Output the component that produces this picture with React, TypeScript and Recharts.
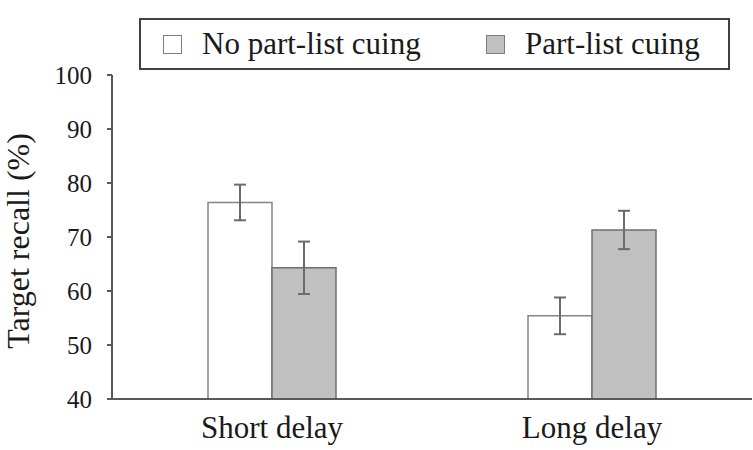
import { BarChart, Bar, XAxis, YAxis, ErrorBar } from "recharts";

const categories = ["Short delay", "Long delay"];
const seriesNames = ["No part-list cuing", "Part-list cuing"];
const noCuing = [76.4, 55.4];
const noCuingErr = [3.3, 3.4];
const cuing = [64.3, 71.3];
const cuingErr = [4.85, 3.55];
const yTicks = [40, 50, 60, 70, 80, 90, 100];

const FILLS = ["#ffffff", "#c0c0c0"];
const FONT = '"Liberation Serif", "Times New Roman", serif';

const data = categories.map((c, i) => ({
  name: c,
  noCuing: noCuing[i],
  noCuingErr: noCuingErr[i],
  cuing: cuing[i],
  cuingErr: cuingErr[i],
}));

function YTitle() {
  return (
    <text
      x={18}
      y={241}
      transform="rotate(-90, 18, 241)"
      textAnchor="middle"
      dominantBaseline="central"
      fontFamily={FONT}
      fontSize={32}
      fill="#1a1a1a"
    >
      Target recall (%)
    </text>
  );
}

function ChartLegend() {
  const item = (i: number, left: number) => (
    <div
      key={i}
      style={{
        position: "absolute",
        left,
        top: 0,
        height: 48,
        display: "flex",
        alignItems: "center",
      }}
    >
      <div
        style={{
          width: 17,
          height: 17,
          background: FILLS[i],
          border: "1.5px solid #7f7f7f",
          marginRight: 20,
        }}
      />
      <span style={{ fontFamily: FONT, fontSize: 31, color: "#1a1a1a" }}>
        {seriesNames[i]}
      </span>
    </div>
  );
  return (
    <div
      style={{
        position: "absolute",
        left: 139,
        top: 18,
        width: 587,
        height: 48,
        border: "2px solid #404040",
      }}
    >
      {item(0, 22)}
      {item(1, 345)}
    </div>
  );
}

export default function App() {
  return (
    <div style={{ position: "absolute", left: 0, top: 0, width: 753, height: 450, background: "#fff" }}>
      <BarChart
        width={753}
        height={450}
        data={data}
        margin={{ top: 75, right: 1, left: 0, bottom: 0 }}
        barCategoryGap="30%"
        barGap={0}
      >
        <XAxis
          dataKey="name"
          axisLine={{ stroke: "#595959", strokeWidth: 2 }}
          tickLine={false}
          tickSize={0}
          tickMargin={17}
          height={51}
          tick={{ fontFamily: FONT, fontSize: 31, fill: "#1a1a1a" }}
        />
        <YAxis
          width={112}
          domain={[40, 100]}
          ticks={yTicks}
          interval={0}
          axisLine={{ stroke: "#595959", strokeWidth: 2 }}
          tickLine={{ stroke: "#595959", strokeWidth: 2 }}
          tickSize={5}
          tickMargin={15}
          tick={{ fontFamily: FONT, fontSize: 25, fill: "#1a1a1a" }}
          label={<YTitle />}
        />
        <Bar
          dataKey="noCuing"
          fill={FILLS[0]}
          stroke="#858585"
          strokeWidth={1.5}
          isAnimationActive={false}
        >
          <ErrorBar dataKey="noCuingErr" width={6} stroke="#6b6b6b" strokeWidth={2} />
        </Bar>
        <Bar
          dataKey="cuing"
          fill={FILLS[1]}
          stroke="#6f6f6f"
          strokeWidth={1.5}
          isAnimationActive={false}
        >
          <ErrorBar dataKey="cuingErr" width={6} stroke="#6b6b6b" strokeWidth={2} />
        </Bar>
      </BarChart>
      <ChartLegend />
    </div>
  );
}
